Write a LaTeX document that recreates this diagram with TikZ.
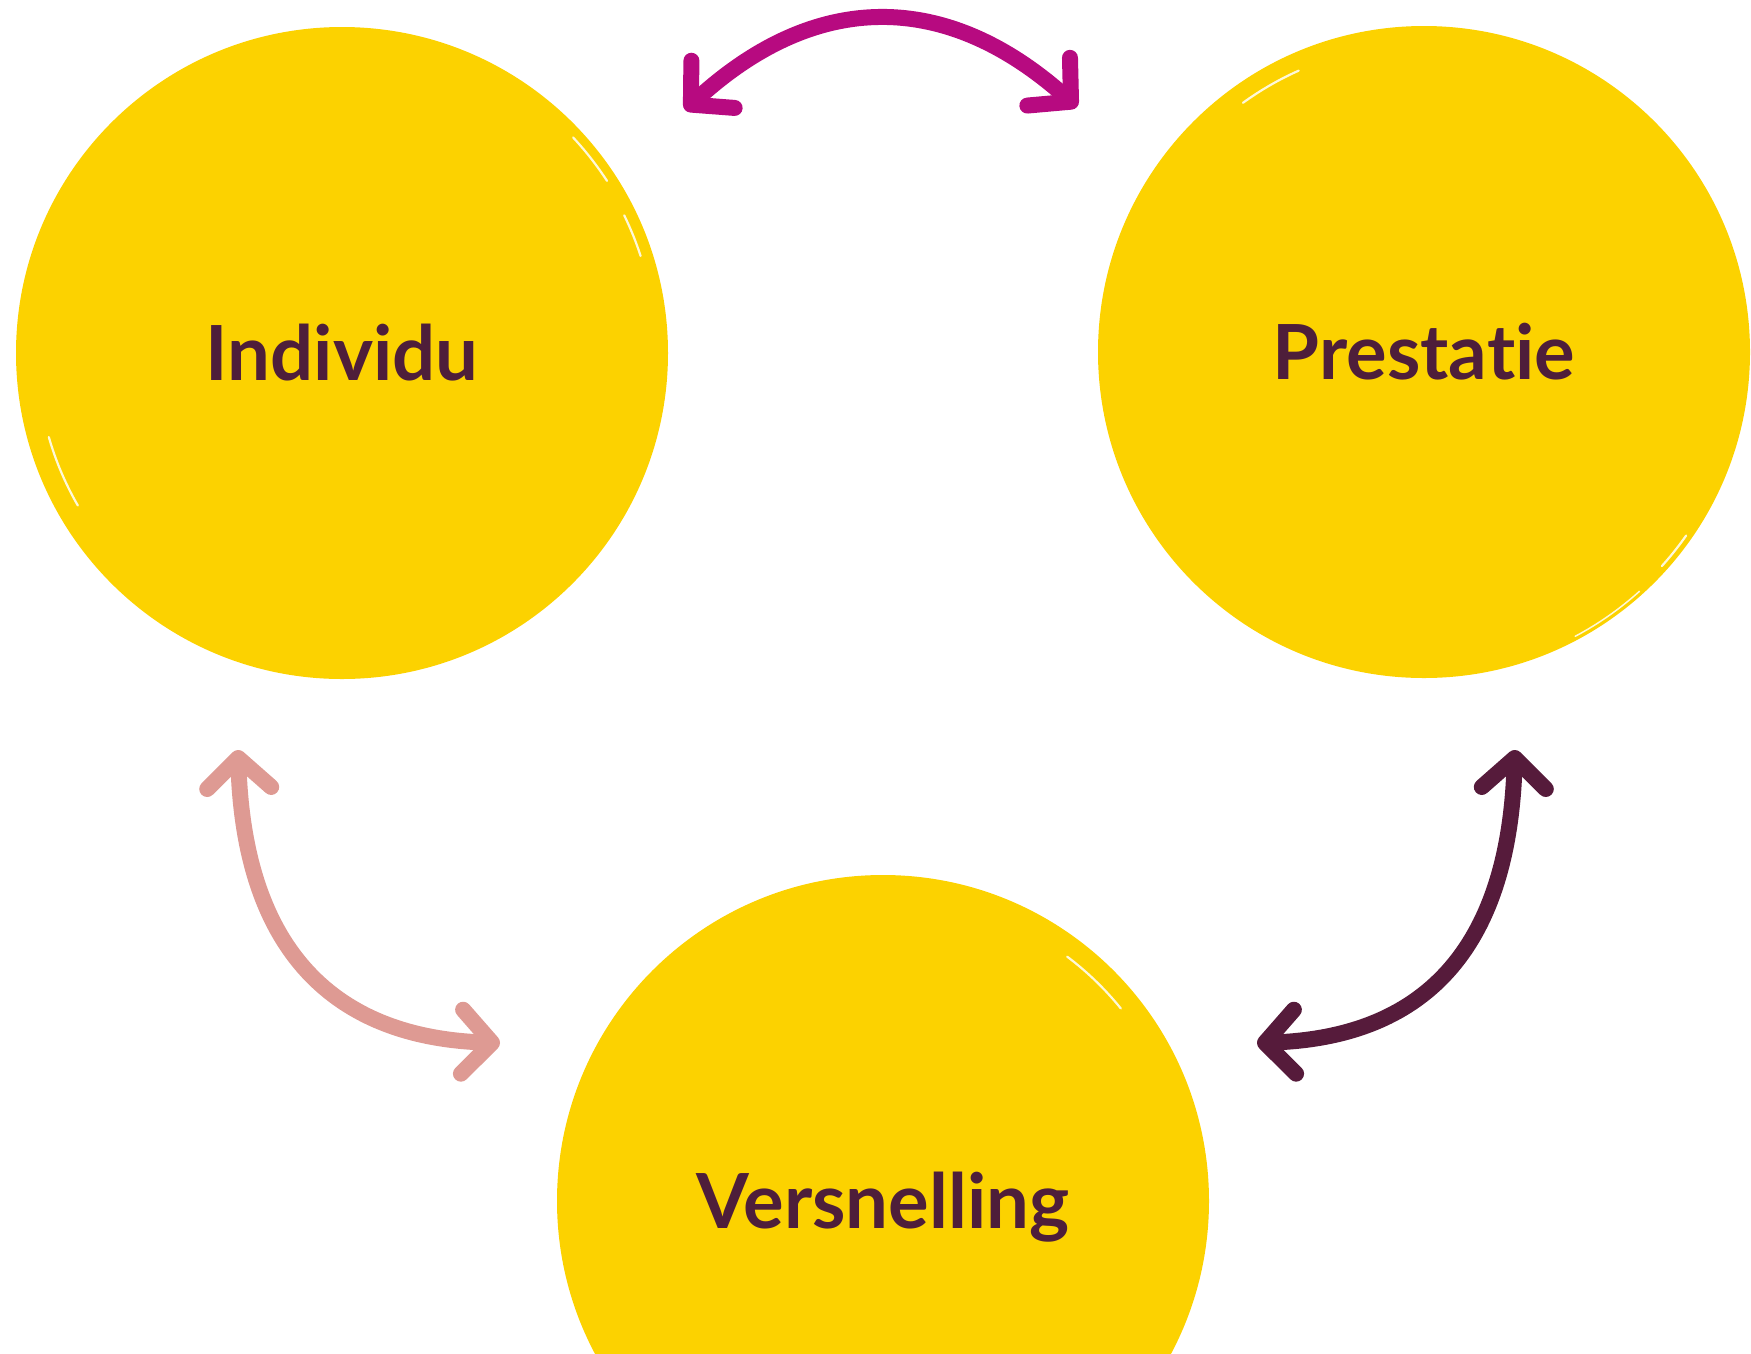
\documentclass[tikz,border=0pt]{standalone}
\usepackage{fontspec}
\setmainfont{Lato}[Ligatures=CommonOff]
\usetikzlibrary{arrows.meta}
\definecolor{sun}{HTML}{FCD200}
\definecolor{plum}{HTML}{4E1E3A}
\definecolor{mag}{HTML}{B70A80}
\definecolor{rose}{HTML}{DE9A93}
\definecolor{wine}{HTML}{561B3B}
\begin{document}
\begin{tikzpicture}[x=1pt,y=-1pt,
  bubble/.style={circle,fill=sun,inner sep=0pt,minimum size=652pt,
    font=\fontsize{76}{80}\selectfont\bfseries,text=plum,
    text height=54pt,text depth=0pt},
  scratch/.style={white,line width=2.2pt,line cap=round,opacity=0.85},
  barb/.tip={Straight Barb[length=30pt,width=64pt,round]},
  link/.style={line width=16pt,line cap=round,barb-barb}]
\useasboundingbox (0,0) rectangle (1751,1353);
\clip (0,0) rectangle (1751,1353);
\node[bubble] (ind) at (342,353) {Individu};
\node[bubble] (pre) at (1424,352) {Prestatie};
\node[bubble] (ver) at (883,1201) {Versnelling};
% brush texture
\draw[scratch] (ind) ++(-43:316) arc[start angle=-43,end angle=-33,radius=316];
\draw[scratch] (ind) ++(-26:314) arc[start angle=-26,end angle=-18,radius=314];
\draw[scratch] (ind) ++(150:305) arc[start angle=150,end angle=164,radius=305];
\draw[scratch] (pre) ++(-126:308) arc[start angle=-126,end angle=-114,radius=308];
\draw[scratch] (pre) ++(35:320) arc[start angle=35,end angle=42,radius=320];
\draw[scratch,line width=1.5pt] (pre) ++(48:322) arc[start angle=48,end angle=62,radius=322];
\draw[scratch] (ver) ++(-53:306) arc[start angle=-53,end angle=-39,radius=306];
\coordinate (a1) at (685,110);
\coordinate (a2) at (1077,107);
\coordinate (b1) at (238,750);
\coordinate (b2) at (500,1043);
\coordinate (c1) at (1515,750);
\coordinate (c2) at (1257,1043);
\draw[link,mag] (a1) .. controls +(131,-120) and +(-131,-117) .. (a2);
\draw[link,rose] (b1) .. controls +(6,190) and +(-175,-6) .. (b2);
\draw[link,wine] (c1) .. controls +(-6,190) and +(175,-6) .. (c2);
\end{tikzpicture}
\end{document}
